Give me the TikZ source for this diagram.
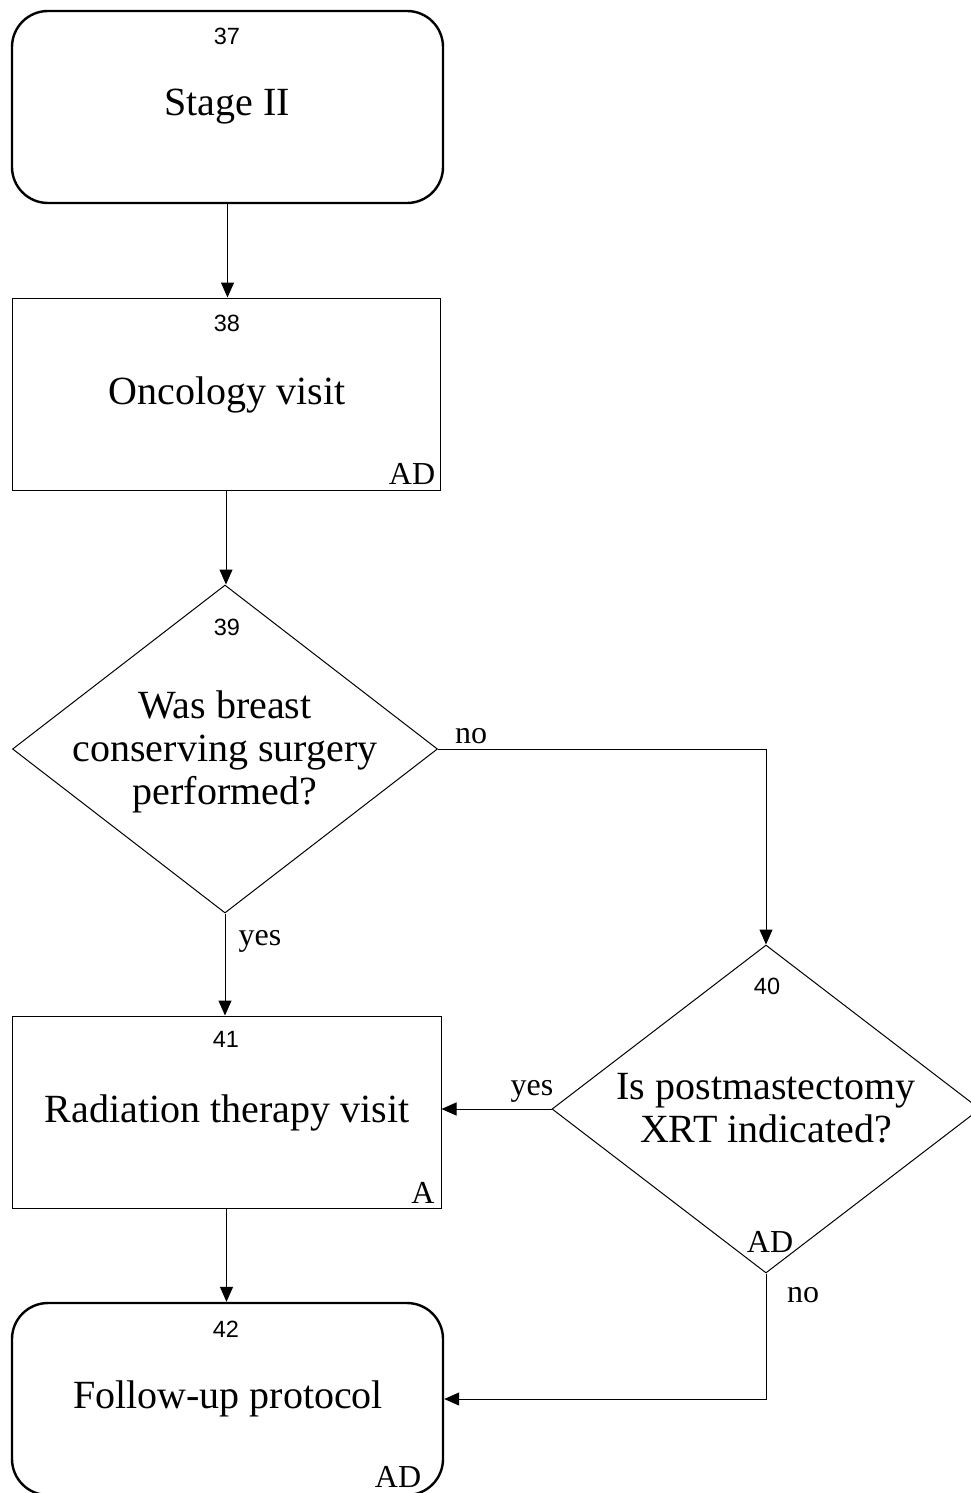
\documentclass[tikz,border=0pt]{standalone}
\usepackage{fontspec}
\setmainfont{Liberation Serif}
\newfontfamily\numfont{Liberation Sans}
\usetikzlibrary{shapes.geometric,arrows.meta}
\begin{document}
\begin{tikzpicture}[x=1pt,y=-1pt,
  term/.style={draw, line width=2.4pt, rounded corners=36pt, minimum width=431pt, minimum height=192pt, inner sep=0pt},
  proc/.style={draw, line width=1pt, minimum height=192pt, inner sep=0pt},
  dec/.style={draw, diamond, line width=1pt, inner sep=0pt, minimum height=328pt},
  main/.style={font=\fontsize{40}{43}\selectfont, align=center, anchor=base, inner sep=0pt},
  num/.style={font=\numfont\fontsize{23.5}{26}\selectfont, anchor=base, inner sep=0pt},
  corner/.style={font=\fontsize{32}{34}\selectfont, anchor=base, inner sep=0pt},
  arr/.style={-{Triangle[length=15pt,width=13pt]}, line width=1pt}]
\useasboundingbox (0,0) rectangle (971,1493);
\clip (0,0) rectangle (971,1493);

\node[term] (n37) at (227.5,107) {};
\node[main] (t37) at (227,116) {Stage II};
\node[num] (l37) at (227,45) {37};

\node[proc, minimum width=428pt] (n38) at (226,394) {};
\node[main] (t38) at (227,404) {Oncology visit};
\node[num] (l38) at (227,331) {38};
\node[corner] (a38) at (412,484) {AD};

\node[dec, minimum width=425pt] (d39) at (225,749) {};
\node[main] (t39) at (225,804) {Was breast\\conserving surgery\\performed?};
\node[num] (l39) at (227,635) {39};

\node[dec, minimum width=428pt] (d40) at (766,1109) {};
\node[main] (t40) at (766,1142) {Is postmastectomy\\XRT indicated?};
\node[num] (l40) at (767,994) {40};
\node[corner] (a40) at (770,1252) {AD};

\node[proc, minimum width=429pt] (n41) at (226.5,1112) {};
\node[main] (t41) at (227,1122) {Radiation therapy visit};
\node[num] (l41) at (226,1047) {41};
\node[corner] (a41) at (423,1203) {A};

\node[term] (n42) at (227.5,1399) {};
\node[main] (t42) at (228,1408) {Follow-up protocol};
\node[num] (l42) at (226,1337) {42};
\node[corner] (a42) at (398,1487) {AD};

\draw[arr] (n37.south) -- (n37.south |- n38.north);
\draw[arr] (n38.south) -- (n38.south |- d39.north);
\draw[arr] (d39.south) -- (d39.south |- n41.north);
\draw[arr] (d39.east) -| (d40.north);
\draw[arr] (d40.west) -- (d40.west -| n41.east);
\draw[arr] (n41.south) -- (n41.south |- n42.north);
\draw[arr] (d40.south) |- (n42.east);

\node[corner] (no1) at (471,743) {no};
\node[corner] (yes1) at (260,945) {yes};
\node[corner] (yes2) at (532,1095) {yes};
\node[corner] (no2) at (803,1302) {no};
\end{tikzpicture}
\end{document}
